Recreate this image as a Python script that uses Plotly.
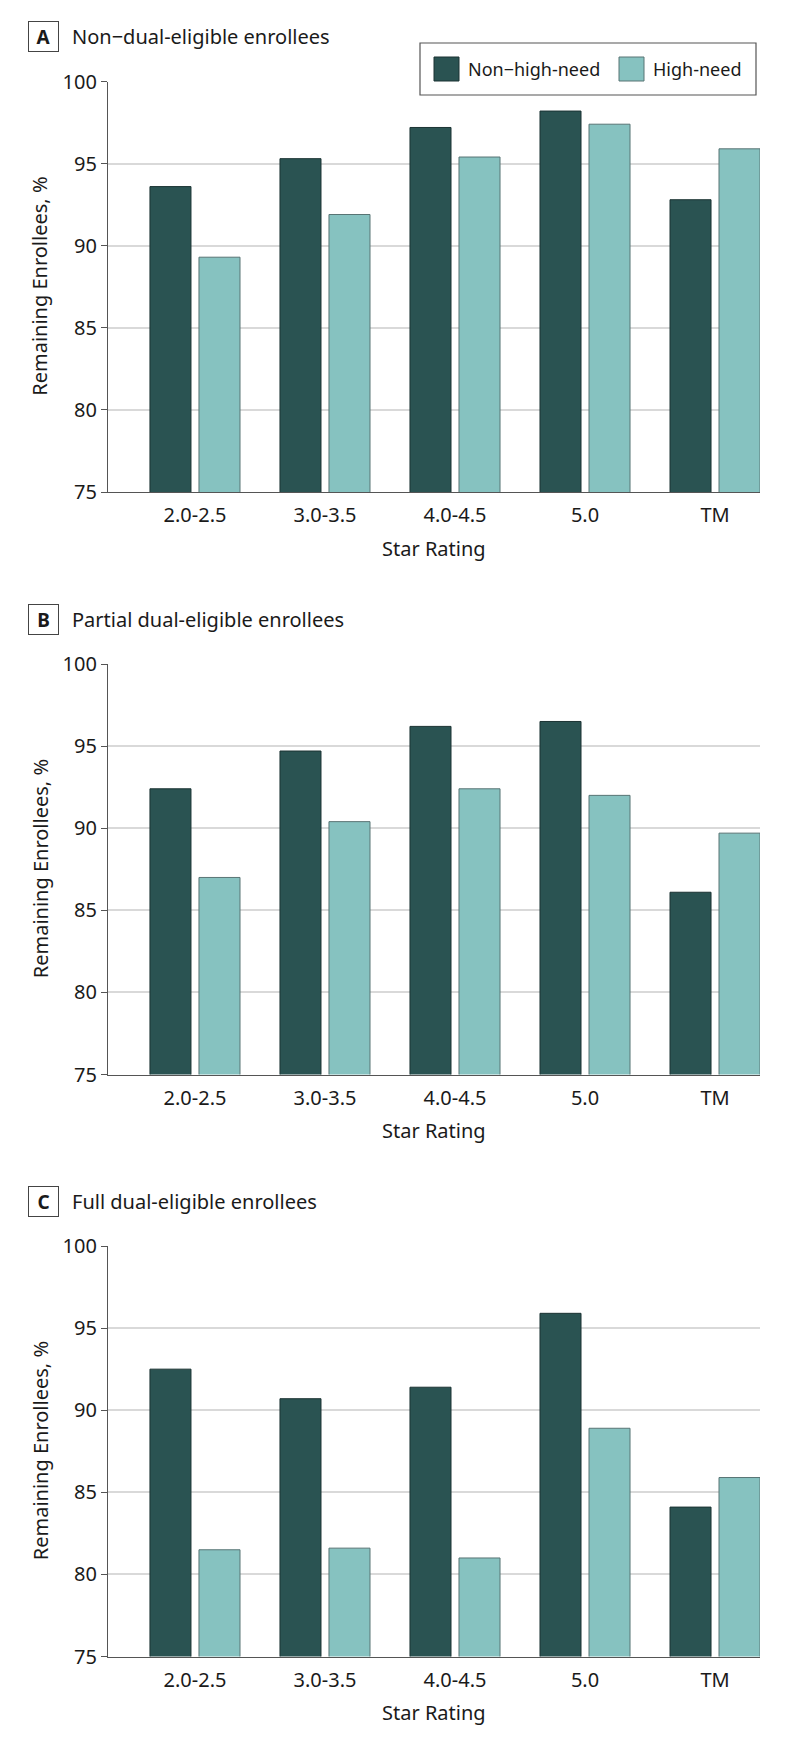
# Figure : part des inscrits restants selon la note (étoiles), 3 panneaux
import plotly.graph_objects as go

CATEGORIES = ["2.0-2.5", "3.0-3.5", "4.0-4.5", "5.0", "TM"]

PANEL_LETTERS = ["A", "B", "C"]
PANEL_TITLES = [
    "Non\u2212dual-eligible enrollees",
    "Partial dual-eligible enrollees",
    "Full dual-eligible enrollees",
]

# valeurs (%)
A_NON_HIGH_NEED = [93.6, 95.3, 97.2, 98.2, 92.8]
A_HIGH_NEED = [89.3, 91.9, 95.4, 97.4, 95.9]
B_NON_HIGH_NEED = [92.4, 94.7, 96.2, 96.5, 86.1]
B_HIGH_NEED = [87.0, 90.4, 92.4, 92.0, 89.7]
C_NON_HIGH_NEED = [92.5, 90.7, 91.4, 95.9, 84.1]
C_HIGH_NEED = [81.5, 81.6, 81.0, 88.9, 85.9]

SERIES_NAMES = ["Non\u2212high-need", "High-need"]
Y_TICKS = [75, 80, 85, 90, 95, 100]

DARK = "#2a5352"
LIGHT = "#86c2c0"
DARK_LINE = "#1b3333"
LIGHT_LINE = "#587474"
AXIS = "#555555"
GRID = "#d9d9d9"
TEXT = "#1a1a1a"
FONT = "Noto Sans"

# la page html garde la marge de 8 px du <body> : on la retire de la taille
BODY = 8
W, H = 794 - BODY, 1742 - BODY
PLOT_L, PLOT_R = 108, 760
PANEL_TOPS = [81.5, 664, 1246]
PANEL_H = 410.5


def fx(p):
    return (p - BODY) / W


def fy(p):
    return 1 - (p - BODY) / H


panels = [
    (A_NON_HIGH_NEED, A_HIGH_NEED),
    (B_NON_HIGH_NEED, B_HIGH_NEED),
    (C_NON_HIGH_NEED, C_HIGH_NEED),
]

fig = go.Figure()
annotations = []
layout_axes = {}

for i, (non_high, high) in enumerate(panels):
    n = "" if i == 0 else str(i + 1)
    top = PANEL_TOPS[i]
    bottom = top + PANEL_H

    for name, vals, color, lcolor in [
        (SERIES_NAMES[0], non_high, DARK, DARK_LINE),
        (SERIES_NAMES[1], high, LIGHT, LIGHT_LINE),
    ]:
        fig.add_trace(go.Bar(
            x=CATEGORIES, y=vals, name=name,
            marker=dict(color=color, line=dict(color=lcolor, width=1)),
            xaxis="x" + n, yaxis="y" + n,
            showlegend=False,
            offsetgroup=name,
            hovertemplate=name + "<br>%{x} : %{y:.1f} %<extra></extra>",
        ))

    layout_axes["xaxis" + n] = dict(
        domain=[fx(PLOT_L), fx(PLOT_R)], anchor="y" + n,
        type="category", range=[-0.669, 4.346], automargin=False,
        showline=True, linecolor=AXIS, linewidth=1.2,
        ticks="outside", ticklen=5, tickcolor="rgba(0,0,0,0)",
        tickfont=dict(family=FONT, size=20, color=TEXT),
        showgrid=False, zeroline=False, fixedrange=True,
    )
    layout_axes["yaxis" + n] = dict(
        domain=[fy(bottom), fy(top)], anchor="x" + n,
        range=[75, 100], tickvals=Y_TICKS, automargin=False,
        showline=True, linecolor=AXIS, linewidth=1.2,
        ticks="outside", ticklen=6, tickcolor=AXIS, tickwidth=1.2,
        tickfont=dict(family=FONT, size=20, color=TEXT),
        showgrid=True, gridcolor=GRID, gridwidth=1.5,
        zeroline=False, fixedrange=True,
    )

    # lettre encadrée + titre du panneau
    annotations.append(dict(
        text="<b>" + PANEL_LETTERS[i] + "</b>", xref="paper", yref="paper",
        x=fx(43.5), y=fy(top - 45), xanchor="center", yanchor="middle",
        showarrow=False, width=29, height=29, borderpad=0,
        bordercolor="#444444", borderwidth=1,
        font=dict(family=FONT, size=19, color=TEXT),
    ))
    annotations.append(dict(
        text=PANEL_TITLES[i], xref="paper", yref="paper",
        x=fx(70), y=fy(top - 45), xanchor="left", yanchor="middle",
        showarrow=False, font=dict(family=FONT, size=20, color=TEXT),
    ))
    # titres d'axes
    annotations.append(dict(
        text="Remaining Enrollees, %", xref="paper", yref="paper",
        x=fx(40), y=fy(top + PANEL_H / 2), xanchor="center", yanchor="middle",
        textangle=-90, showarrow=False,
        font=dict(family=FONT, size=20, color=TEXT),
    ))
    annotations.append(dict(
        text="Star Rating", xref="paper", yref="paper",
        x=fx((PLOT_L + PLOT_R) / 2), y=fy(bottom + 56), xanchor="center", yanchor="middle",
        showarrow=False, font=dict(family=FONT, size=20, color=TEXT),
    ))

# légende dessinée à la main (carrés plus grands que ceux de plotly)
shapes = [
    dict(type="rect", xref="paper", yref="paper",
         x0=fx(420), x1=fx(756), y0=fy(43), y1=fy(95),
         line=dict(color=AXIS, width=1.2), fillcolor="white"),
    dict(type="rect", xref="paper", yref="paper",
         x0=fx(434), x1=fx(459), y0=fy(57), y1=fy(81),
         line=dict(color=DARK_LINE, width=1), fillcolor=DARK),
    dict(type="rect", xref="paper", yref="paper",
         x0=fx(619), x1=fx(644), y0=fy(57), y1=fy(81),
         line=dict(color=LIGHT_LINE, width=1), fillcolor=LIGHT),
]
for xpos, label in [(466, SERIES_NAMES[0]), (651, SERIES_NAMES[1])]:
    annotations.append(dict(
        text=label, xref="paper", yref="paper",
        x=fx(xpos), y=fy(69), xanchor="left", yanchor="middle",
        showarrow=False, font=dict(family=FONT, size=18, color=TEXT),
    ))

fig.update_layout(
    width=W, height=H,
    margin=dict(l=0, r=0, t=0, b=0, autoexpand=False),
    paper_bgcolor="white", plot_bgcolor="white",
    showlegend=False,
    barmode="group", bargap=0.246, bargroupgap=0.163,
    font=dict(family=FONT, size=20, color=TEXT),
    annotations=annotations, shapes=shapes,
    **layout_axes,
)

fig.write_html("out.html")
